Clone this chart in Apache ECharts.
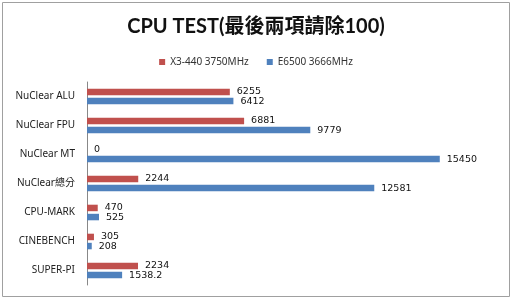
<!DOCTYPE html>
<html><head><meta charset="utf-8">
<script src="https://cdn.jsdelivr.net/npm/echarts@6/dist/echarts.min.js"></script>
<style>html,body{margin:0;padding:0;background:#fff}#c{width:512px;height:301px}</style>
</head><body><div id="c"></div>
<script>
const categories = ['NuClear ALU','NuClear FPU','NuClear MT','NuClear總分','CPU-MARK','CINEBENCH','SUPER-PI'];
const seriesNames = ['X3-440 3750MHz','E6500 3666MHz'];
const x3Values = [6255, 6881, 0, 2244, 470, 305, 2234];
const e6500Values = [6412, 9779, 15450, 12581, 525, 208, 1538.2];
const colors = ['#C0504D','#4F81BD'];

const chart = echarts.init(document.getElementById('c'), null, {renderer:'canvas'});
const labelStyle = {show:true, position:'right', distance:7, color:'#111', fontFamily:'DejaVu Sans', fontSize:9.5,
  formatter: p => String(p.value)};
chart.setOption({
  animation:false,
  graphic:[{type:'rect', shape:{x:2.5,y:2.5,width:507,height:294}, style:{fill:null, stroke:'#a0a0a0', lineWidth:1}, silent:true}],
  title:{text:'CPU TEST(最後兩項請除100)', left:'center', top:12,
    textStyle:{fontFamily:'Lato, "Noto Sans CJK TC"', fontWeight:'bold', fontSize:20, color:'#111'}},
  legend:{top:52, left:'center', itemWidth:6, itemHeight:6, itemGap:18, icon:'rect',
    textStyle:{fontFamily:'Noto Sans', fontSize:10, color:'#333'}, data:seriesNames},
  grid:{left:87, right:14, top:82, bottom:16, containLabel:false},
  xAxis:{type:'value', min:0, max:18000, show:false},
  yAxis:{type:'category', data:categories, inverse:true,
    axisLine:{lineStyle:{color:'#888'}}, axisTick:{show:false},
    axisLabel:{margin:12, color:'#222', fontFamily:'Noto Sans, "Noto Sans CJK TC"', fontSize:10}},
  series:[
    {name:seriesNames[0], type:'bar', data:x3Values, barWidth:6.5, barGap:'40%', itemStyle:{color:colors[0]}, label:labelStyle},
    {name:seriesNames[1], type:'bar', data:e6500Values, barWidth:6.5, itemStyle:{color:colors[1]}, label:labelStyle}
  ]
});
</script></body></html>
